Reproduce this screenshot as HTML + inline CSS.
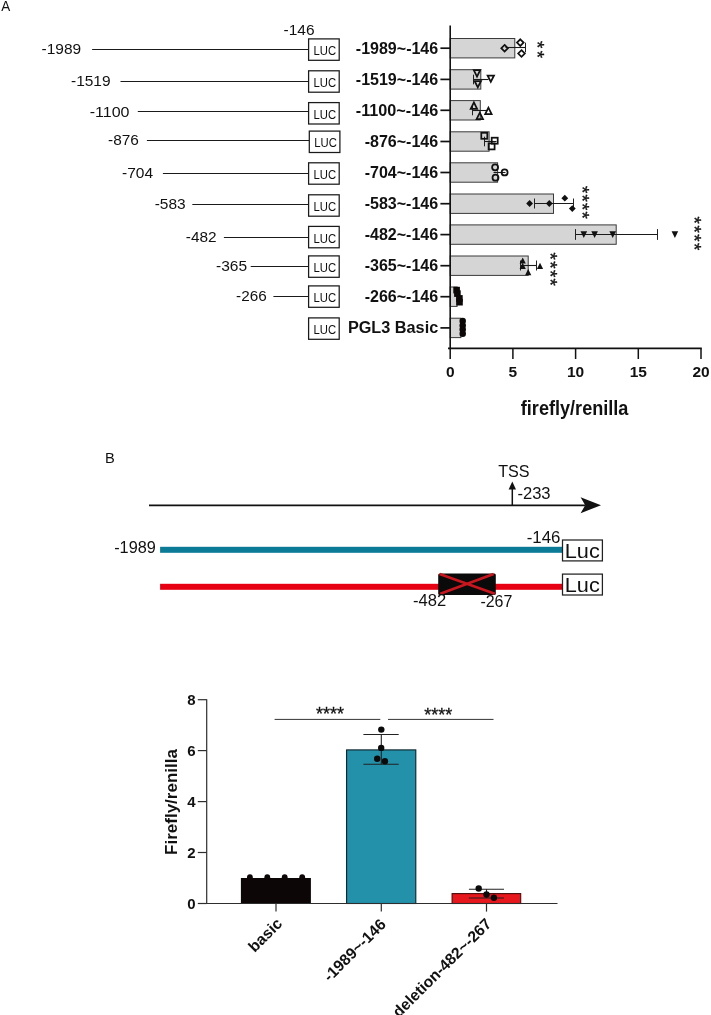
<!DOCTYPE html>
<html><head><meta charset="utf-8"><title>Figure</title>
<style>html,body{margin:0;padding:0;background:#fff}svg{display:block}text{font-family:"Liberation Sans",Arial,sans-serif;fill:#111}</style></head><body>
<svg width="711" height="1015" viewBox="0 0 711 1015">
<rect width="711" height="1015" fill="#fff"/>
<g id="panelA-left">
<text x="1.2" y="11.2" font-size="15" textLength="9" lengthAdjust="spacingAndGlyphs" >A</text>
<text x="283.5" y="34.5" font-size="15.4" textLength="31" lengthAdjust="spacingAndGlyphs" >-146</text>
<text x="41.6" y="54.3" font-size="15.4" textLength="39.599999999999994" lengthAdjust="spacingAndGlyphs" >-1989</text>
<line x1="92.1" y1="49.5" x2="308.6" y2="49.5" stroke="#1a1a1a" stroke-width="1.15"/>
<text x="71.0" y="85.8" font-size="15.4" textLength="39.599999999999994" lengthAdjust="spacingAndGlyphs" >-1519</text>
<line x1="120.5" y1="81.5" x2="308.6" y2="81.5" stroke="#1a1a1a" stroke-width="1.15"/>
<text x="89.7" y="116.7" font-size="15.4" textLength="39.8" lengthAdjust="spacingAndGlyphs" >-1100</text>
<line x1="137.8" y1="111.5" x2="308.6" y2="111.5" stroke="#1a1a1a" stroke-width="1.15"/>
<text x="108.10000000000001" y="145.3" font-size="15.4" textLength="30.8" lengthAdjust="spacingAndGlyphs" >-876</text>
<line x1="146.9" y1="140.5" x2="309.3" y2="140.5" stroke="#1a1a1a" stroke-width="1.15"/>
<text x="122.0" y="177.9" font-size="15.4" textLength="31.1" lengthAdjust="spacingAndGlyphs" >-704</text>
<line x1="162.9" y1="173.5" x2="308.6" y2="173.5" stroke="#1a1a1a" stroke-width="1.15"/>
<text x="154.7" y="209.4" font-size="15.4" textLength="31.0" lengthAdjust="spacingAndGlyphs" >-583</text>
<line x1="192.3" y1="204.5" x2="308.6" y2="204.5" stroke="#1a1a1a" stroke-width="1.15"/>
<text x="185.79999999999998" y="241.8" font-size="15.4" textLength="30.8" lengthAdjust="spacingAndGlyphs" >-482</text>
<line x1="223.9" y1="237.5" x2="308.6" y2="237.5" stroke="#1a1a1a" stroke-width="1.15"/>
<text x="216.0" y="271.2" font-size="15.4" textLength="31.1" lengthAdjust="spacingAndGlyphs" >-365</text>
<line x1="250.7" y1="266.5" x2="308.6" y2="266.5" stroke="#1a1a1a" stroke-width="1.15"/>
<text x="236.1" y="300.90000000000003" font-size="15.4" textLength="30.6" lengthAdjust="spacingAndGlyphs" >-266</text>
<line x1="273.4" y1="296.5" x2="308.6" y2="296.5" stroke="#1a1a1a" stroke-width="1.15"/>
<rect x="308.6" y="38.9" width="30.6" height="21.4" fill="#fff" stroke="#1a1a1a" stroke-width="1.25"/>
<text x="313.5" y="55.099999999999994" font-size="13" textLength="22.6" lengthAdjust="spacingAndGlyphs" >LUC</text>
<rect x="308.6" y="70.8" width="30.6" height="21.4" fill="#fff" stroke="#1a1a1a" stroke-width="1.25"/>
<text x="313.5" y="87.0" font-size="13" textLength="22.6" lengthAdjust="spacingAndGlyphs" >LUC</text>
<rect x="308.6" y="102.6" width="30.6" height="21.4" fill="#fff" stroke="#1a1a1a" stroke-width="1.25"/>
<text x="313.5" y="118.8" font-size="13" textLength="22.6" lengthAdjust="spacingAndGlyphs" >LUC</text>
<rect x="309.3" y="131.1" width="30.6" height="21.4" fill="#fff" stroke="#1a1a1a" stroke-width="1.25"/>
<text x="314.2" y="147.29999999999998" font-size="13" textLength="22.6" lengthAdjust="spacingAndGlyphs" >LUC</text>
<rect x="308.6" y="162.8" width="30.6" height="21.4" fill="#fff" stroke="#1a1a1a" stroke-width="1.25"/>
<text x="313.5" y="179.0" font-size="13" textLength="22.6" lengthAdjust="spacingAndGlyphs" >LUC</text>
<rect x="308.6" y="194.8" width="30.6" height="21.4" fill="#fff" stroke="#1a1a1a" stroke-width="1.25"/>
<text x="313.5" y="211.0" font-size="13" textLength="22.6" lengthAdjust="spacingAndGlyphs" >LUC</text>
<rect x="308.6" y="226.4" width="30.6" height="21.4" fill="#fff" stroke="#1a1a1a" stroke-width="1.25"/>
<text x="313.5" y="242.6" font-size="13" textLength="22.6" lengthAdjust="spacingAndGlyphs" >LUC</text>
<rect x="308.6" y="255.9" width="30.6" height="21.4" fill="#fff" stroke="#1a1a1a" stroke-width="1.25"/>
<text x="313.5" y="272.1" font-size="13" textLength="22.6" lengthAdjust="spacingAndGlyphs" >LUC</text>
<rect x="308.6" y="285.9" width="30.6" height="21.4" fill="#fff" stroke="#1a1a1a" stroke-width="1.25"/>
<text x="313.5" y="302.09999999999997" font-size="13" textLength="22.6" lengthAdjust="spacingAndGlyphs" >LUC</text>
<rect x="308.6" y="317.9" width="30.6" height="21.4" fill="#fff" stroke="#1a1a1a" stroke-width="1.25"/>
<text x="313.5" y="334.09999999999997" font-size="13" textLength="22.6" lengthAdjust="spacingAndGlyphs" >LUC</text>
</g>
<g id="panelA-chart">
<rect x="450.2" y="38.5" width="64.6" height="19.4" fill="#d5d5d5" stroke="#3a3a3a" stroke-width="1"/>
<line x1="440.4" y1="48.2" x2="450.2" y2="48.2" stroke="#111" stroke-width="1.7"/>
<text x="438.2" y="53.5" font-size="16" font-weight="bold" text-anchor="end" textLength="82.4" lengthAdjust="spacingAndGlyphs" >-1989~-146</text>
<rect x="450.2" y="69.69999999999999" width="30.6" height="19.4" fill="#d5d5d5" stroke="#3a3a3a" stroke-width="1"/>
<line x1="440.4" y1="79.4" x2="450.2" y2="79.4" stroke="#111" stroke-width="1.7"/>
<text x="438.2" y="84.69999999999999" font-size="16" font-weight="bold" text-anchor="end" textLength="82.4" lengthAdjust="spacingAndGlyphs" >-1519~-146</text>
<rect x="450.2" y="100.6" width="30.1" height="19.4" fill="#d5d5d5" stroke="#3a3a3a" stroke-width="1"/>
<line x1="440.4" y1="110.3" x2="450.2" y2="110.3" stroke="#111" stroke-width="1.7"/>
<text x="438.2" y="115.6" font-size="16" font-weight="bold" text-anchor="end" textLength="82.4" lengthAdjust="spacingAndGlyphs" >-1100~-146</text>
<rect x="450.2" y="131.79999999999998" width="38.9" height="19.4" fill="#d5d5d5" stroke="#3a3a3a" stroke-width="1"/>
<line x1="440.4" y1="141.5" x2="450.2" y2="141.5" stroke="#111" stroke-width="1.7"/>
<text x="438.2" y="146.79999999999998" font-size="16" font-weight="bold" text-anchor="end" textLength="73.5" lengthAdjust="spacingAndGlyphs" >-876~-146</text>
<rect x="450.2" y="162.79999999999998" width="47.4" height="19.4" fill="#d5d5d5" stroke="#3a3a3a" stroke-width="1"/>
<line x1="440.4" y1="172.5" x2="450.2" y2="172.5" stroke="#111" stroke-width="1.7"/>
<text x="438.2" y="177.79999999999998" font-size="16" font-weight="bold" text-anchor="end" textLength="73.5" lengthAdjust="spacingAndGlyphs" >-704~-146</text>
<rect x="450.2" y="194.0" width="103.3" height="19.4" fill="#d5d5d5" stroke="#3a3a3a" stroke-width="1"/>
<line x1="440.4" y1="203.7" x2="450.2" y2="203.7" stroke="#111" stroke-width="1.7"/>
<text x="438.2" y="209.0" font-size="16" font-weight="bold" text-anchor="end" textLength="73.5" lengthAdjust="spacingAndGlyphs" >-583~-146</text>
<rect x="450.2" y="224.9" width="166.0" height="19.4" fill="#d5d5d5" stroke="#3a3a3a" stroke-width="1"/>
<line x1="440.4" y1="234.6" x2="450.2" y2="234.6" stroke="#111" stroke-width="1.7"/>
<text x="438.2" y="239.9" font-size="16" font-weight="bold" text-anchor="end" textLength="73.5" lengthAdjust="spacingAndGlyphs" >-482~-146</text>
<rect x="450.2" y="255.99999999999997" width="78.0" height="19.4" fill="#d5d5d5" stroke="#3a3a3a" stroke-width="1"/>
<line x1="440.4" y1="265.7" x2="450.2" y2="265.7" stroke="#111" stroke-width="1.7"/>
<text x="438.2" y="271.0" font-size="16" font-weight="bold" text-anchor="end" textLength="73.5" lengthAdjust="spacingAndGlyphs" >-365~-146</text>
<rect x="450.2" y="287.0" width="6.9" height="19.4" fill="#d5d5d5" stroke="#3a3a3a" stroke-width="1"/>
<line x1="440.4" y1="296.7" x2="450.2" y2="296.7" stroke="#111" stroke-width="1.7"/>
<text x="438.2" y="302.0" font-size="16" font-weight="bold" text-anchor="end" textLength="73.5" lengthAdjust="spacingAndGlyphs" >-266~-146</text>
<rect x="450.2" y="318.20000000000005" width="10.7" height="19.4" fill="#d5d5d5" stroke="#3a3a3a" stroke-width="1"/>
<line x1="440.4" y1="327.9" x2="450.2" y2="327.9" stroke="#111" stroke-width="1.7"/>
<text x="438.2" y="333.20000000000005" font-size="16" font-weight="bold" text-anchor="end" textLength="90.3" lengthAdjust="spacingAndGlyphs" >PGL3 Basic</text>
<line x1="505.5" y1="47.5" x2="525.5" y2="47.5" stroke="#1a1a1a" stroke-width="1.1"/>
<line x1="525.5" y1="42.7" x2="525.5" y2="52.3" stroke="#222" stroke-width="1"/>
<path d="M504.6,44.900000000000006L507.90000000000003,48.2L504.6,51.5L501.3,48.2Z" fill="none" stroke="#111" stroke-width="1.75"/>
<path d="M520.3,39.300000000000004L523.5999999999999,42.6L520.3,45.9L517.0,42.6Z" fill="none" stroke="#111" stroke-width="1.75"/>
<path d="M521.5,50.2L524.8,53.5L521.5,56.8L518.2,53.5Z" fill="none" stroke="#111" stroke-width="1.75"/>
<line x1="473.5" y1="79.5" x2="488.5" y2="79.5" stroke="#1a1a1a" stroke-width="1.1"/>
<line x1="473.5" y1="74.7" x2="473.5" y2="84.3" stroke="#222" stroke-width="1"/>
<path d="M477,76.60000000000001L480.2,70.2L473.8,70.2Z" fill="none" stroke="#111" stroke-width="1.75"/>
<path d="M477.8,87.4L481.0,81.0L474.6,81.0Z" fill="none" stroke="#111" stroke-width="1.75"/>
<path d="M490.8,81.9L494.0,75.5L487.6,75.5Z" fill="none" stroke="#111" stroke-width="1.75"/>
<line x1="472.5" y1="110.5" x2="487.5" y2="110.5" stroke="#1a1a1a" stroke-width="1.1"/>
<line x1="472.5" y1="105.7" x2="472.5" y2="115.3" stroke="#222" stroke-width="1"/>
<path d="M473.9,102.39999999999999L477.09999999999997,108.8L470.7,108.8Z" fill="none" stroke="#111" stroke-width="1.75"/>
<path d="M479.8,112.7L483.0,119.10000000000001L476.6,119.10000000000001Z" fill="none" stroke="#111" stroke-width="1.75"/>
<path d="M488.4,107.6L491.59999999999997,114.0L485.2,114.0Z" fill="none" stroke="#111" stroke-width="1.75"/>
<line x1="484.5" y1="141.5" x2="496.5" y2="141.5" stroke="#1a1a1a" stroke-width="1.1"/>
<line x1="484.5" y1="136.7" x2="484.5" y2="146.3" stroke="#222" stroke-width="1"/>
<rect x="481.3" y="132.8" width="6.0" height="6.0" fill="none" stroke="#111" stroke-width="1.75"/>
<rect x="491.7" y="137.7" width="6.0" height="6.0" fill="none" stroke="#111" stroke-width="1.75"/>
<rect x="488.6" y="143.4" width="6.0" height="6.0" fill="none" stroke="#111" stroke-width="1.75"/>
<line x1="493.5" y1="172.5" x2="505.5" y2="172.5" stroke="#1a1a1a" stroke-width="1.1"/>
<circle cx="495.1" cy="167.3" r="3.0" fill="none" stroke="#111" stroke-width="1.75"/>
<circle cx="495.5" cy="177.7" r="3.0" fill="none" stroke="#111" stroke-width="1.75"/>
<circle cx="504.6" cy="172.4" r="3.0" fill="none" stroke="#111" stroke-width="1.75"/>
<line x1="534.5" y1="203.5" x2="573.5" y2="203.5" stroke="#1a1a1a" stroke-width="1.1"/>
<line x1="534.5" y1="198.5" x2="534.5" y2="208.5" stroke="#222" stroke-width="1"/>
<line x1="573.5" y1="198.5" x2="573.5" y2="208.5" stroke="#222" stroke-width="1"/>
<path d="M529.6,200.1L533.0,203.5L529.6,206.9L526.2,203.5Z" fill="#111" stroke="#111" stroke-width="0"/>
<path d="M549.3,200.1L552.6999999999999,203.5L549.3,206.9L545.9,203.5Z" fill="#111" stroke="#111" stroke-width="0"/>
<path d="M564.8,194.79999999999998L568.1999999999999,198.2L564.8,201.6L561.4,198.2Z" fill="#111" stroke="#111" stroke-width="0"/>
<path d="M572.3,205.2L575.6999999999999,208.6L572.3,212.0L568.9,208.6Z" fill="#111" stroke="#111" stroke-width="0"/>
<line x1="575.5" y1="234.5" x2="657.5" y2="234.5" stroke="#1a1a1a" stroke-width="1.1"/>
<line x1="575.5" y1="229.1" x2="575.5" y2="239.9" stroke="#222" stroke-width="1"/>
<line x1="657.5" y1="229.1" x2="657.5" y2="239.9" stroke="#222" stroke-width="1"/>
<path d="M583.8,237.9L587.0999999999999,231.29999999999998L580.5,231.29999999999998Z" fill="#111" stroke="#111" stroke-width="0"/>
<path d="M594.6,237.9L597.9,231.29999999999998L591.3000000000001,231.29999999999998Z" fill="#111" stroke="#111" stroke-width="0"/>
<path d="M612.7,237.9L616.0,231.29999999999998L609.4000000000001,231.29999999999998Z" fill="#111" stroke="#111" stroke-width="0"/>
<path d="M674.9,237.9L678.1999999999999,231.29999999999998L671.6,231.29999999999998Z" fill="#111" stroke="#111" stroke-width="0"/>
<line x1="520.5" y1="265.5" x2="536.5" y2="265.5" stroke="#1a1a1a" stroke-width="1.1"/>
<line x1="520.5" y1="260.5" x2="520.5" y2="270.5" stroke="#222" stroke-width="1"/>
<line x1="536.5" y1="260.5" x2="536.5" y2="270.5" stroke="#222" stroke-width="1"/>
<path d="M522.7,257.4L525.8000000000001,263.6L519.6,263.6Z" fill="#111" stroke="#111" stroke-width="0"/>
<path d="M522.7,262.7L525.8000000000001,268.90000000000003L519.6,268.90000000000003Z" fill="#111" stroke="#111" stroke-width="0"/>
<path d="M528.2,269.0L531.3000000000001,275.20000000000005L525.1,275.20000000000005Z" fill="#111" stroke="#111" stroke-width="0"/>
<path d="M540,262.7L543.1,268.90000000000003L536.9,268.90000000000003Z" fill="#111" stroke="#111" stroke-width="0"/>
<rect x="453.3" y="286.8" width="6.6" height="6.6" fill="#0d0808" stroke="#111" stroke-width="0"/>
<rect x="454.09999999999997" y="290.3" width="6.6" height="6.6" fill="#0d0808" stroke="#111" stroke-width="0"/>
<rect x="456.09999999999997" y="295.09999999999997" width="6.6" height="6.6" fill="#0d0808" stroke="#111" stroke-width="0"/>
<rect x="456.2" y="298.9" width="6.6" height="6.6" fill="#0d0808" stroke="#111" stroke-width="0"/>
<circle cx="462.7" cy="321.1" r="3.25" fill="#0d0808" stroke="#111" stroke-width="0"/>
<circle cx="462.7" cy="325.4" r="3.25" fill="#0d0808" stroke="#111" stroke-width="0"/>
<circle cx="462.7" cy="329.6" r="3.25" fill="#0d0808" stroke="#111" stroke-width="0"/>
<circle cx="462.7" cy="333.8" r="3.25" fill="#0d0808" stroke="#111" stroke-width="0"/>
<line x1="450.2" y1="25.5" x2="450.2" y2="349.2" stroke="#111" stroke-width="1.6"/>
<line x1="448" y1="348.4" x2="701.8" y2="348.4" stroke="#111" stroke-width="1.6"/>
<line x1="450.2" y1="348.4" x2="450.2" y2="359" stroke="#111" stroke-width="1.5"/>
<text x="450.2" y="377.4" font-size="15.5" font-weight="bold" text-anchor="middle" >0</text>
<line x1="512.9" y1="348.4" x2="512.9" y2="359" stroke="#111" stroke-width="1.5"/>
<text x="512.9" y="377.4" font-size="15.5" font-weight="bold" text-anchor="middle" >5</text>
<line x1="575.6" y1="348.4" x2="575.6" y2="359" stroke="#111" stroke-width="1.5"/>
<text x="575.6" y="377.4" font-size="15.5" font-weight="bold" text-anchor="middle" >10</text>
<line x1="638.3" y1="348.4" x2="638.3" y2="359" stroke="#111" stroke-width="1.5"/>
<text x="638.3" y="377.4" font-size="15.5" font-weight="bold" text-anchor="middle" >15</text>
<line x1="701.0" y1="348.4" x2="701.0" y2="359" stroke="#111" stroke-width="1.5"/>
<text x="701.0" y="377.4" font-size="15.5" font-weight="bold" text-anchor="middle" >20</text>
<text x="574.6" y="415.3" font-size="19.4" font-weight="bold" text-anchor="middle" textLength="107.6" lengthAdjust="spacingAndGlyphs" >firefly/renilla</text>
<text transform="translate(531.2,40.9) rotate(90)" font-size="19" stroke="#111" stroke-width="0.35" textLength="17.2" lengthAdjust="spacing">**</text>
<text transform="translate(575.9,185.9) rotate(90)" font-size="19" stroke="#111" stroke-width="0.35" textLength="32.9" lengthAdjust="spacing">****</text>
<text transform="translate(687.9,216.6) rotate(90)" font-size="19" stroke="#111" stroke-width="0.35" textLength="33.9" lengthAdjust="spacing">****</text>
<text transform="translate(543.6,252.6) rotate(90)" font-size="19" stroke="#111" stroke-width="0.35" textLength="33.4" lengthAdjust="spacing">****</text>
</g>
<g id="panelB-scheme">
<text x="105.0" y="462.9" font-size="14.8" textLength="9.8" lengthAdjust="spacingAndGlyphs" >B</text>
<line x1="149" y1="505.3" x2="585" y2="505.3" stroke="#111" stroke-width="1.8"/>
<path d="M601,505.2L580.6,497.2L585.2,505.2L580.6,513.2Z" fill="#111"/>
<line x1="512.3" y1="505.3" x2="512.3" y2="486" stroke="#111" stroke-width="1.5"/>
<path d="M512.3,481.6L508.6,489.4L516,489.4Z" fill="#111"/>
<text x="498.2" y="476.8" font-size="16.2" textLength="31.4" lengthAdjust="spacingAndGlyphs" >TSS</text>
<text x="517.4" y="499.3" font-size="16.2" textLength="33.2" lengthAdjust="spacingAndGlyphs" >-233</text>
<text x="114.2" y="553.2" font-size="16.2" textLength="41.6" lengthAdjust="spacingAndGlyphs" >-1989</text>
<text x="526.7" y="542.9" font-size="16.2" textLength="33.7" lengthAdjust="spacingAndGlyphs" >-146</text>
<rect x="160.1" y="546.8" width="403" height="6" fill="#0b7b97"/>
<rect x="160.1" y="583.8" width="403" height="6" fill="#e60012"/>
<rect x="562.5" y="540.0" width="39.9" height="20.9" fill="#fff" stroke="#222" stroke-width="1.25"/>
<text x="564.8" y="557.9" font-size="20.4" textLength="35" lengthAdjust="spacingAndGlyphs" >Luc</text>
<rect x="562.5" y="574.1" width="39.9" height="20.9" fill="#fff" stroke="#222" stroke-width="1.25"/>
<text x="564.8" y="592.0" font-size="20.4" textLength="35" lengthAdjust="spacingAndGlyphs" >Luc</text>
<rect x="438.2" y="573.5" width="57.6" height="21.6" rx="1.5" fill="#0a0a0a"/>
<path d="M439.6,574L494.8,593.8M493.6,574L440.3,593.8" stroke="#c8161e" stroke-width="2.7" fill="none"/>
<text x="413.1" y="606.3" font-size="16.2" textLength="33.2" lengthAdjust="spacingAndGlyphs" >-482</text>
<text x="480.4" y="606.6" font-size="16.2" textLength="32.0" lengthAdjust="spacingAndGlyphs" >-267</text>
</g>
<g id="panelB-chart">
<rect x="240.9" y="878.0" width="70" height="25.5" fill="#0c0606"/>
<rect x="346.6" y="749.9" width="69.2" height="153.6" fill="#2391aa" stroke="#0a2229" stroke-width="1.1"/>
<rect x="452.1" y="893.6" width="68.6" height="9.9" fill="#e6171d" stroke="#4a0a0c" stroke-width="1.1"/>
<line x1="206.7" y1="699.2" x2="206.7" y2="904.0" stroke="#2e2e2e" stroke-width="1.2"/>
<line x1="206.7" y1="903.5" x2="557.5" y2="903.5" stroke="#2e2e2e" stroke-width="1.2"/>
<line x1="197.8" y1="903.5" x2="206.7" y2="903.5" stroke="#2e2e2e" stroke-width="1.2"/>
<text x="195.7" y="908.8" font-size="15" font-weight="bold" text-anchor="end" >0</text>
<line x1="197.8" y1="852.5" x2="206.7" y2="852.5" stroke="#2e2e2e" stroke-width="1.2"/>
<text x="195.7" y="857.8" font-size="15" font-weight="bold" text-anchor="end" >2</text>
<line x1="197.8" y1="801.6" x2="206.7" y2="801.6" stroke="#2e2e2e" stroke-width="1.2"/>
<text x="195.7" y="806.9" font-size="15" font-weight="bold" text-anchor="end" >4</text>
<line x1="197.8" y1="750.6" x2="206.7" y2="750.6" stroke="#2e2e2e" stroke-width="1.2"/>
<text x="195.7" y="755.9" font-size="15" font-weight="bold" text-anchor="end" >6</text>
<line x1="197.8" y1="699.7" x2="206.7" y2="699.7" stroke="#2e2e2e" stroke-width="1.2"/>
<text x="195.7" y="705.0" font-size="15" font-weight="bold" text-anchor="end" >8</text>
<line x1="276" y1="903.5" x2="276" y2="911.6" stroke="#2e2e2e" stroke-width="1.2"/>
<line x1="381.3" y1="903.5" x2="381.3" y2="911.6" stroke="#2e2e2e" stroke-width="1.2"/>
<line x1="486.5" y1="903.5" x2="486.5" y2="911.6" stroke="#2e2e2e" stroke-width="1.2"/>
<text transform="translate(176.8,802) rotate(-90)" font-size="17" font-weight="bold" text-anchor="middle" textLength="106" lengthAdjust="spacingAndGlyphs">Firefly/renilla</text>
<circle cx="249.9" cy="877.2" r="2.9" fill="#0c0606" stroke="#111" stroke-width="0"/>
<circle cx="267.3" cy="877.2" r="2.9" fill="#0c0606" stroke="#111" stroke-width="0"/>
<circle cx="284.7" cy="877.2" r="2.9" fill="#0c0606" stroke="#111" stroke-width="0"/>
<circle cx="302.2" cy="877.2" r="2.9" fill="#0c0606" stroke="#111" stroke-width="0"/>
<line x1="381.3" y1="734.5" x2="381.3" y2="764.2" stroke="#222" stroke-width="1.1"/>
<line x1="363.4" y1="734.5" x2="398.7" y2="734.5" stroke="#222" stroke-width="1.1"/>
<line x1="363.4" y1="764.2" x2="398.7" y2="764.2" stroke="#222" stroke-width="1.1"/>
<circle cx="381.3" cy="729.6" r="3.2" fill="#0a0a0a" stroke="#111" stroke-width="0"/>
<circle cx="381.2" cy="747.9" r="3.2" fill="#0a0a0a" stroke="#111" stroke-width="0"/>
<circle cx="377.2" cy="758.8" r="3.2" fill="#0a0a0a" stroke="#111" stroke-width="0"/>
<circle cx="384.9" cy="761.3" r="3.2" fill="#0a0a0a" stroke="#111" stroke-width="0"/>
<line x1="486.5" y1="889.2" x2="486.5" y2="898" stroke="#222" stroke-width="1.1"/>
<line x1="468.9" y1="889.2" x2="504" y2="889.2" stroke="#222" stroke-width="1.1"/>
<line x1="468.9" y1="898" x2="504" y2="898" stroke="#222" stroke-width="1.1"/>
<circle cx="478.7" cy="888.5" r="3.2" fill="#0a0a0a" stroke="#111" stroke-width="0"/>
<circle cx="486.5" cy="894.5" r="3.2" fill="#0a0a0a" stroke="#111" stroke-width="0"/>
<circle cx="493.9" cy="897.7" r="3.2" fill="#0a0a0a" stroke="#111" stroke-width="0"/>
<line x1="274.6" y1="719.4" x2="380.3" y2="719.4" stroke="#333" stroke-width="1"/>
<line x1="388" y1="719.4" x2="493.5" y2="719.4" stroke="#333" stroke-width="1"/>
<text x="330" y="719.8" font-size="18" text-anchor="middle" textLength="28" lengthAdjust="spacing" stroke="#111" stroke-width="0.3">****</text>
<text x="438.3" y="720.6" font-size="18" text-anchor="middle" textLength="28" lengthAdjust="spacing" stroke="#111" stroke-width="0.3">****</text>
<text transform="translate(283.2,924.6) rotate(-45)" font-size="15.7" font-weight="bold" text-anchor="end">basic</text>
<text transform="translate(386.8,925.4) rotate(-45)" font-size="15.7" font-weight="bold" text-anchor="end">-1989~-146</text>
<text transform="translate(492.4,924.8) rotate(-45)" font-size="15.7" font-weight="bold" text-anchor="end">deletion-482~-267</text>
</g>
</svg></body></html>
